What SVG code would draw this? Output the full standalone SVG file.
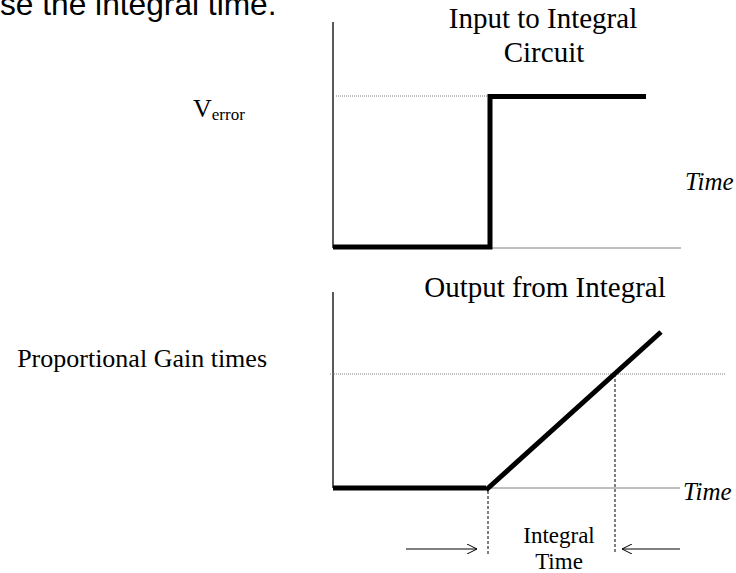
<svg xmlns="http://www.w3.org/2000/svg" width="736" height="573" viewBox="0 0 736 573">
<style>
.serif{font-family:"Liberation Serif","Times New Roman",serif;fill:#000}
.sans{font-family:"Liberation Sans",Arial,sans-serif;fill:#000}
.axis{stroke:#000;stroke-width:1.3;fill:none}
.base{stroke:#808080;stroke-width:1;fill:none}
.sig{stroke:#000;stroke-width:5;fill:none}
.dot{stroke:#808080;stroke-width:1;stroke-dasharray:1 1;fill:none}
.dash{stroke:#000;stroke-width:1;stroke-dasharray:3 2;fill:none}
.arr{stroke:#000;stroke-width:1;fill:none}
</style>
<defs>
<marker id="open" viewBox="0 0 10 10" refX="10" refY="5" markerWidth="10" markerHeight="10" markerUnits="userSpaceOnUse" orient="auto">
<path d="M0,0 L10,5 L0,10" fill="none" stroke="#000" stroke-width="1"/>
</marker>
</defs>
<rect width="736" height="573" fill="#fff"/>
<text class="sans" x="0" y="15" font-size="31.7">se the integral time.</text>
<g id="input-chart">
<line class="axis" x1="333" y1="22" x2="333" y2="248"/>
<line class="base" x1="333" y1="248" x2="681" y2="248"/>
<line class="dot" x1="336" y1="96" x2="488" y2="96"/>
<polyline class="sig" points="333,247 490,247 490,96.5 646,96.5"/>
<text class="serif" x="543" y="28" font-size="29" text-anchor="middle">Input to Integral</text>
<text class="serif" x="544" y="62" font-size="29" text-anchor="middle">Circuit</text>
<text class="serif" x="193" y="117" font-size="26">V<tspan font-size="17" dy="3">error</tspan></text>
<text class="serif" x="685" y="190" font-size="25" font-style="italic">Time</text>
</g>
<g id="output-chart">
<line class="axis" x1="333" y1="292" x2="333" y2="488"/>
<line class="base" x1="333" y1="488" x2="680" y2="488"/>
<line class="dot" x1="330" y1="374" x2="726" y2="374"/>
<polyline class="sig" points="333,488 486,488"/>
<line class="sig" x1="486" y1="490" x2="661" y2="332"/>
<text class="serif" x="545" y="297" font-size="29" text-anchor="middle">Output from Integral</text>
<text class="serif" x="267" y="367" font-size="26" text-anchor="end">Proportional Gain times</text>
<text class="serif" x="683" y="500" font-size="25" font-style="italic">Time</text>
</g>
<g id="integral-time">
<text class="serif" x="559" y="543" font-size="23" text-anchor="middle">Integral</text>
<text class="serif" x="559" y="569" font-size="23" text-anchor="middle">Time</text>
</g>
<g id="connectors">
<line class="dash" x1="615" y1="374" x2="615" y2="553"/>
<line class="dash" x1="488" y1="491" x2="488" y2="555"/>
<line class="arr" x1="406" y1="549" x2="477" y2="549" marker-end="url(#open)"/>
<line class="arr" x1="680" y1="549" x2="622" y2="549" marker-end="url(#open)"/>
</g>
</svg>
